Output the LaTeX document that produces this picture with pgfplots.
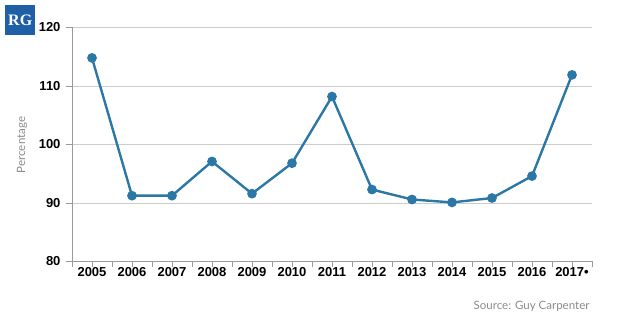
\documentclass[border=0pt]{standalone}
\usepackage{fontspec}
\setmainfont{Liberation Sans}
\newfontfamily\latofont{Lato}
\newfontfamily\logofont{Liberation Serif}
\usepackage{pgfplots}
\pgfplotsset{compat=1.18}
\definecolor{linec}{HTML}{2B78A6}
\definecolor{gridc}{HTML}{CCCCCC}
\definecolor{axisc}{HTML}{9A9A9A}
\definecolor{labc}{HTML}{8A8A8A}
\definecolor{logob}{HTML}{1F5FA6}
\begin{document}
\begin{tikzpicture}[x=1pt,y=1pt]
\useasboundingbox (0,0) rectangle (630,329);
\node[fill=logob, minimum width=30pt, minimum height=30pt, inner sep=0pt, anchor=north west, text=white, font=\logofont\bfseries\fontsize{16}{16}\selectfont] at (5,324) {RG};
\begin{axis}[
  at={(72pt,67.5pt)}, anchor=south west,
  scale only axis, width=520pt, height=234pt,
  xmin=-0.5, xmax=12.5, ymin=80, ymax=120,
  axis x line=bottom, axis y line=left,
  axis line style={-, draw=axisc, line width=0.8pt},
  xtick={-0.5,0.5,...,12.5},
  xticklabels={},
  x tick style={draw=axisc, line width=0.8pt},
  extra x ticks={0,...,12},
  extra x tick labels={2005,2006,2007,2008,2009,2010,2011,2012,2013,2014,2015,2016,2017•},
  extra x tick style={tick style={draw=none}, grid=none},
  ytick={80,90,...,120},
  ymajorgrids, grid style={draw=gridc, line width=0.8pt},
  y tick style={draw=axisc, line width=0.8pt},
  tick align=outside, major tick length=6pt,
  /pgf/number format/assume math mode=true,
  ticklabel style={font=\bfseries\fontsize{13}{13}\selectfont, text=black},
  xticklabel style={yshift=4pt},
  yticklabel style={xshift=-2pt},
  clip=false,
]
\addplot[linec, line width=2.4pt, mark=*, mark size=3.6pt, mark options={draw=none, fill=linec}] coordinates {
(0,114.8) (1,91.25) (2,91.25) (3,97.1) (4,91.6) (5,96.8) (6,108.2)
(7,92.3) (8,90.6) (9,90.1) (10,90.85) (11,94.6) (12,111.9)
};
\end{axis}
\node[rotate=90, font=\latofont\fontsize{11.5}{12}\selectfont, text=labc] at (22,184) {Percentage};
\node[anchor=base east, font=\latofont\fontsize{11.5}{12}\selectfont, text=labc] at (593,19) {Source: Guy Carpenter};
\end{tikzpicture}
\end{document}
